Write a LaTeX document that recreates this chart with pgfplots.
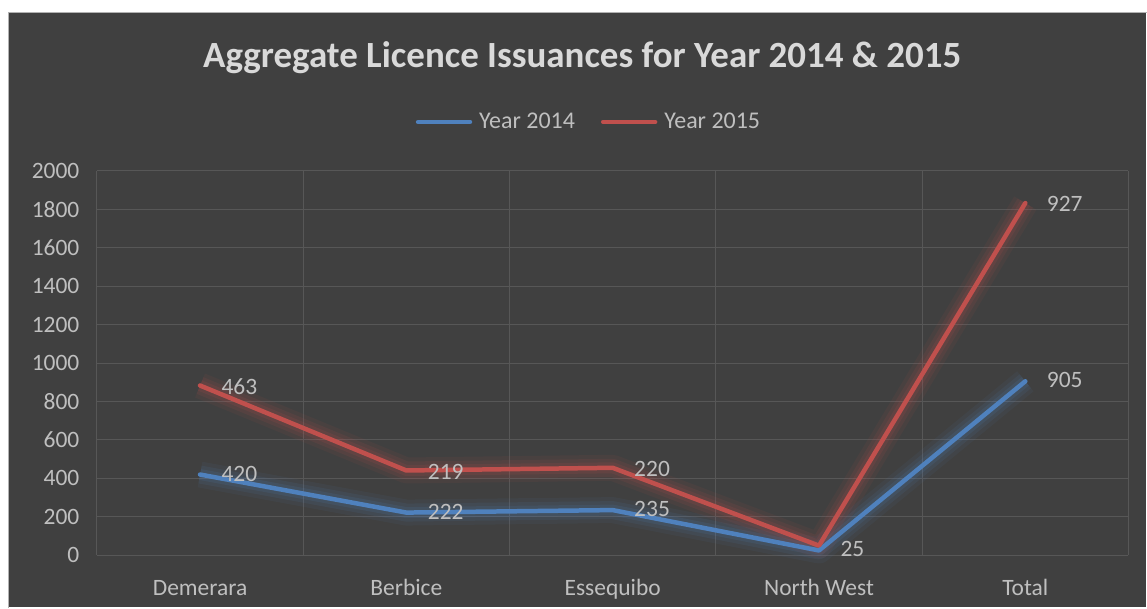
\documentclass[border=0pt]{standalone}
\usepackage{pgfplots}
\pgfplotsset{compat=1.18}
\usepackage{fontspec}
\setmainfont{Carlito}
\definecolor{bg}{HTML}{404040}
\definecolor{gridc}{HTML}{575757}
\definecolor{txt}{HTML}{D9D9D9}
\definecolor{tickc}{HTML}{BFBFBF}
\definecolor{blueL}{HTML}{4F81BD}
\definecolor{redL}{HTML}{C0504D}
\begin{document}
\begin{tikzpicture}[x=1pt,y=1pt]
\fill[white] (0,0) rectangle (1147,608);
\fill[bg] (8,0) rectangle (1147,595);
\draw[gray!60, line width=1pt] (8.5,-1) -- (8.5,595.5) -- (1148,595.5);
\node[font=\fontsize{37}{44}\selectfont\bfseries, text=txt] at (583,550) {Aggregate Licence Issuances for Year 2014 \& 2015};
\begin{axis}[at={(97pt,52pt)}, anchor=south west, scale only axis,
 width=1033pt, height=385pt,
 xmin=-0.5, xmax=4.5, ymin=0, ymax=2000,
 ytick={0,200,...,2000}, xtick={0,...,4},
 xticklabels={Demerara,Berbice,Essequibo,North West,Total},
 minor xtick={-0.5,0.5,...,4.5}, xminorgrids, ymajorgrids,
 grid style={gridc, line width=1pt}, minor grid style={gridc, line width=1pt},
 axis line style={draw=none}, major tick length=0pt, minor tick length=0pt,
 tick label style={font=\fontsize{23.5}{28}\selectfont, text=tickc},
 /pgf/number format/assume math mode=true, /pgf/number format/1000 sep={},
 yticklabel style={xshift=-14pt},
 xticklabel style={yshift=-25pt, text height=12pt, text depth=4pt},
 legend columns=2,
 legend style={at={(axis description cs:0.477,1.127)}, anchor=center, draw=none, fill=none,
   font=\fontsize{24}{28}\selectfont, text=tickc,
   /tikz/every even column/.append style={column sep=24pt}},
 legend image code/.code={\draw[#1, line width=4.5pt, line cap=round] (0pt,0pt) -- (52pt,0pt); \path (57pt,0pt);},
 clip=false,
]
% glow 2014
\addplot[blueL, line width=26pt, opacity=0.07, line join=round, forget plot] coordinates {(0,420) (1,222) (2,235) (3,25) (4,905)};
\addplot[blueL, line width=18pt, opacity=0.10, line join=round, forget plot] coordinates {(0,420) (1,222) (2,235) (3,25) (4,905)};
\addplot[blueL, line width=11pt, opacity=0.13, line join=round, forget plot] coordinates {(0,420) (1,222) (2,235) (3,25) (4,905)};
% glow 2015 (stacked)
\addplot[redL, line width=26pt, opacity=0.07, line join=round, forget plot] coordinates {(0,883) (1,441) (2,455) (3,50) (4,1832)};
\addplot[redL, line width=18pt, opacity=0.10, line join=round, forget plot] coordinates {(0,883) (1,441) (2,455) (3,50) (4,1832)};
\addplot[redL, line width=11pt, opacity=0.13, line join=round, forget plot] coordinates {(0,883) (1,441) (2,455) (3,50) (4,1832)};
% lines
\addplot[blueL, line width=4.5pt, line join=round, line cap=round,
  point meta=explicit symbolic, nodes near coords,
  every node near coord/.style={anchor=west, xshift=16pt, yshift=1pt, font=\fontsize{23.5}{28}\selectfont, text=tickc}]
  coordinates {(0,420) [420] (1,222) [222] (2,235) [235] (3,25) [25] (4,905) [905]};
\addlegendentry{Year 2014}
\addplot[redL, line width=4.5pt, line join=round, line cap=round,
  point meta=explicit symbolic, nodes near coords,
  every node near coord/.style={anchor=west, xshift=16pt, yshift=-1pt, font=\fontsize{23.5}{28}\selectfont, text=tickc}]
  coordinates {(0,883) [463] (1,441) [219] (2,455) [220] (3,50) [] (4,1832) [927]};
\addlegendentry{Year 2015}
\end{axis}
\end{tikzpicture}
\end{document}
